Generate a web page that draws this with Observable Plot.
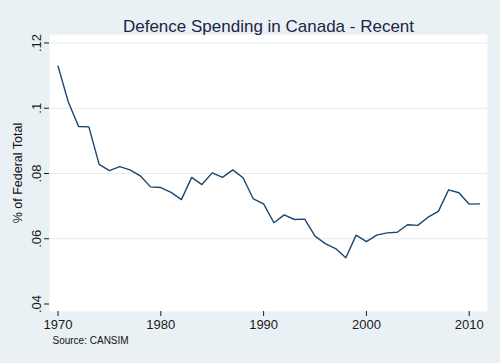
<!DOCTYPE html>
<html><head><meta charset="utf-8">
<script src="https://cdn.jsdelivr.net/npm/d3@7"></script>
<script src="https://cdn.jsdelivr.net/npm/@observablehq/plot@0.6"></script>
<style>
html,body{margin:0;padding:0;background:#eaf1f4;}
</style></head><body><div id="chart"></div>
<script>
const years = [1970,1971,1972,1973,1974,1975,1976,1977,1978,1979,1980,1981,1982,1983,1984,1985,1986,1987,1988,1989,1990,1991,1992,1993,1994,1995,1996,1997,1998,1999,2000,2001,2002,2003,2004,2005,2006,2007,2008,2009,2010,2011];
const values = [0.1129,0.1019,0.0944,0.0943,0.0828,0.0809,0.0821,0.0811,0.0793,0.0759,0.0757,0.0742,0.0720,0.0788,0.0766,0.0802,0.0788,0.0811,0.0787,0.0722,0.0707,0.0649,0.0673,0.0659,0.0660,0.0608,0.0585,0.0570,0.0542,0.0611,0.0591,0.0611,0.0618,0.0620,0.0643,0.0641,0.0666,0.0684,0.0750,0.0741,0.0706,0.0707];
const xTicks = [1970,1980,1990,2000,2010];
const yTicks = [0.04,0.06,0.08,0.1,0.12];
const yTickLabels = [".04",".06",".08",".1",".12"];
const titleText = "Defence Spending in Canada - Recent";
const yTitle = "% of Federal Total";
const sourceText = "Source: CANSIM";

const data = years.map((y,i)=>({year:y, value:values[i]}));
const fmtY = d => yTickLabels[yTicks.findIndex(t => Math.abs(t - d) < 1e-9)];

const chart = Plot.plot({
  width:500, height:363,
  marginLeft:49, marginRight:13, marginTop:34, marginBottom:52,
  style:{background:"#eaf1f4", fontFamily:"'Liberation Sans', Arial, sans-serif", overflow:"visible"},
  x:{domain:[1969.17, 2011.78]},
  y:{domain:[0.0377, 0.1226]},
  marks:[
    Plot.frame({fill:"white", stroke:null}),
    Plot.gridY(yTicks.slice(1), {stroke:"#e3ecef", strokeOpacity:1, strokeWidth:1}),
    Plot.line(data,{x:"year", y:"value", stroke:"#1a476f", strokeWidth:1.4}),
    Plot.axisX({ticks:xTicks, tickFormat:d=>String(d), tickSize:5, tickPadding:3, fontSize:13, label:null, line:true, color:"#1a1a1a"}),
    Plot.axisY({ticks:yTicks, tickFormat:fmtY, tickRotate:-90, tickSize:5, tickPadding:4, fontSize:13, label:null, line:true, color:"#1a1a1a"}),
    Plot.text([titleText], {frameAnchor:"top", dy:-15, fontSize:17, fill:"#1c2545"}),
    Plot.text([yTitle], {frameAnchor:"left", dx:-32, rotate:-90, textAnchor:"middle", fontSize:12.5, fill:"#111"}),
    Plot.text([sourceText], {frameAnchor:"bottom-left", dx:3, dy:32, textAnchor:"start", fontSize:10, fill:"#111"})
  ]
});
document.getElementById("chart").appendChild(chart);
</script></body></html>
